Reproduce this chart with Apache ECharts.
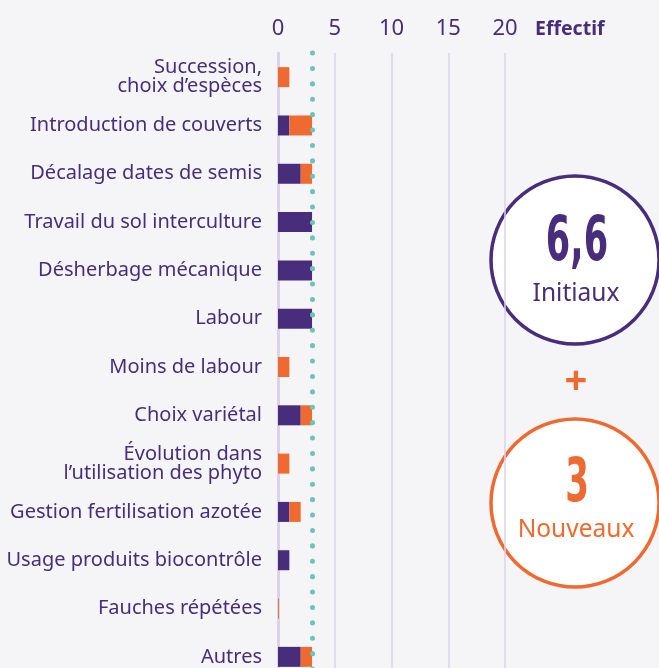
<!DOCTYPE html>
<html>
<head>
<meta charset="utf-8">
<script src="https://cdn.jsdelivr.net/npm/echarts@6/dist/echarts.min.js"></script>
<style>
  html, body { margin: 0; padding: 0; background: #f5f5f8; }
  #chart { width: 659px; height: 668px; }
</style>
</head>
<body>
<div id="chart"></div>
<script>
// leviers mobilisés
const categories = [
  'Succession,\nchoix d’espèces',
  'Introduction de couverts',
  'Décalage dates de semis',
  'Travail du sol interculture',
  'Désherbage mécanique',
  'Labour',
  'Moins de labour',
  'Choix variétal',
  'Évolution dans\nl’utilisation des phyto',
  'Gestion fertilisation azotée',
  'Usage produits biocontrôle',
  'Fauches répétées',
  'Autres'
]
const initiaux = [0, 1, 2, 3, 3, 3, 0, 2, 0, 1, 1, 0, 2]
const nouveaux = [1, 2, 1, 0, 0, 0, 1, 1, 1, 1, 0, 0.08, 1]
const xTicks = [0, 5, 10, 15, 20]
const refLine = 3
const totalInitiaux = '6,6'
const totalNouveaux = '3'

const violet = '#472d7b'
const orange = '#ee6a30'
const teal = '#6cc4b8'
const lightLine = '#d8d3e8'
const bigFont = '"Liberation Sans Narrow", "DejaVu Sans Condensed", sans-serif'

let chart = echarts.init(document.getElementById('chart'))
chart.setOption({
  backgroundColor: '#f5f5f8',
  animation: false,
  title: {
    text: 'Effectif', left: 530, top: 14,
    textStyle: { color: violet, fontSize: 19.5, fontWeight: 'bold', fontFamily: 'Noto Sans' }
  },
  grid: { left: 278, width: 227, top: 53, height: 628, outerBoundsMode: 'none', containLabel: false },
  xAxis: {
    type: 'value',
    position: 'top',
    min: xTicks[0],
    max: xTicks[xTicks.length - 1],
    interval: 5,
    axisLine: { show: false },
    axisTick: { show: false },
    axisLabel: { color: violet, fontSize: 22, fontFamily: 'Noto Sans', margin: 13 },
    splitLine: { lineStyle: { color: lightLine, width: 1.5 } }
  },
  yAxis: {
    type: 'category',
    inverse: true,
    data: categories,
    axisLine: { lineStyle: { color: lightLine, width: 3 } },
    axisTick: { inside: true, length: 5, lineStyle: { color: lightLine, width: 1.5 } },
    axisLabel: {
      color: violet, fontSize: 20, fontFamily: 'Noto Sans', margin: 16,
      lineHeight: 19, align: 'right'
    }
  },
  series: [
    {
      name: 'Initiaux', type: 'bar', stack: 'total', data: initiaux,
      barWidth: 20, itemStyle: { color: violet },
      markLine: {
        silent: true, symbol: 'none', label: { show: false },
        lineStyle: { color: teal, width: 5, type: [0.1, 15.3], cap: 'round' },
        data: [{ xAxis: refLine }]
      }
    },
    {
      name: 'Nouveaux', type: 'bar', stack: 'total', data: nouveaux,
      barWidth: 20, itemStyle: { color: orange }
    }
  ],
  graphic: [
    { type: 'circle', shape: { cx: 575, cy: 260, r: 84 }, style: { fill: '#fff', stroke: violet, lineWidth: 3.5 } },
    { type: 'text', x: 577, y: 244, scaleX: 0.63,
      style: { text: totalInitiaux, align: 'center', verticalAlign: 'middle', fill: violet,
        font: 'bold 62px ' + bigFont } },
    { type: 'text', x: 576, y: 294,
      style: { text: 'Initiaux', align: 'center', verticalAlign: 'middle', fill: violet,
        font: '24.5px "Noto Sans", sans-serif' } },
    { type: 'text', x: 576, y: 383,
      style: { text: '+', align: 'center', verticalAlign: 'middle', fill: orange,
        font: 'bold 40px "Noto Sans", sans-serif' } },
    { type: 'circle', shape: { cx: 575, cy: 503, r: 84 }, style: { fill: '#fff', stroke: orange, lineWidth: 3.5 } },
    { type: 'text', x: 577, y: 485, scaleX: 0.63,
      style: { text: totalNouveaux, align: 'center', verticalAlign: 'middle', fill: orange,
        font: 'bold 60px ' + bigFont } },
    { type: 'text', x: 576, y: 530,
      style: { text: 'Nouveaux', align: 'center', verticalAlign: 'middle', fill: orange,
        font: '24.5px "Noto Sans", sans-serif' } }
  ]
})
</script>
</body>
</html>
